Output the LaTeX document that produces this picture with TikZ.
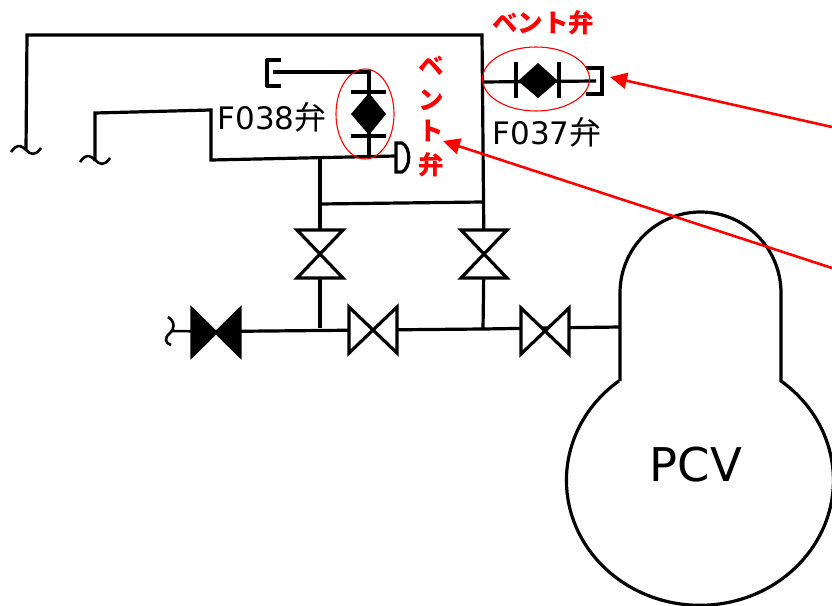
\documentclass[tikz,border=0pt]{standalone}
\usepackage{fontspec}
\setmainfont{DejaVu Sans}
\newfontfamily\jpfont{Noto Sans CJK JP}
\usetikzlibrary{arrows.meta}
\tikzset{
 pipe/.style={line width=3.2pt,line join=miter},
 thin pipe/.style={line width=2.6pt},
 ring/.style={draw=red,line width=1.1pt},
 pointer/.style={draw=red,line width=2.6pt,-{Triangle[length=17pt,width=16pt]}},
 tag/.style={inner sep=0pt,black},
 redtag/.style={font=\jpfont\bfseries\fontsize{25.5}{25.5}\selectfont,inner sep=0pt,red},
}
\newcommand{\valveH}[2]{%
 \draw[pipe,fill=white] (#1-24,#2-23) -- (#1+24,#2+23) -- (#1+24,#2-23) -- (#1-24,#2+23) -- cycle;}
\newcommand{\valveV}[2]{%
 \draw[pipe,fill=white] (#1-23,#2-24) -- (#1+23,#2-24) -- (#1-23,#2+24) -- (#1+23,#2+24) -- cycle;}
\newcommand{\tildeH}[2]{%
 \draw[thin pipe] (#1-15,#2+2) .. controls (#1-8,#2-8) and (#1-3,#2-3) .. (#1,#2) .. controls (#1+4,#2+4) and (#1+9,#2+7) .. (#1+15,#2-2);}
\begin{document}
\begin{tikzpicture}[x=1pt,y=-1pt]
\useasboundingbox (0,0) rectangle (832,605);
\clip (0,0) rectangle (832,605);
% PCV
\coordinate (pcvL) at (620,327);
\draw[pipe] (620,381) -- (620,293) arc[start angle=180,end angle=0,x radius=80.5,y radius=-81] -- (781,381)
  arc[start angle=-52.6,end angle=232.6,x radius=133.5,y radius=125];
\node[font=\fontsize{46.5}{46.5}\selectfont,inner sep=0pt] (pcv) at (696,465) {PCV};
% main line
\coordinate (wavc) at (171,331);
\coordinate (v3) at (216,331.5);
\coordinate (v4) at (373,330);
\coordinate (v5) at (545,328);
\coordinate (v1) at (320,254);
\coordinate (v2) at (484,254);
\coordinate (t1) at (320,328);
\coordinate (t2) at (483,330);
\draw[pipe] (v3) -- (v4);
\draw[pipe] (v4) -- (483,329) -- (v5) -- (pcvL);
\draw[thin pipe] (wavc) -- (v3);
\draw[pipe] (t1) -- (v1);
\draw[pipe] (t2) -- (v2);
% upper lines
\coordinate (tl) at (27,35);
\coordinate (tr) at (482,35);
\coordinate (wav1) at (26,150);
\coordinate (wav2) at (95,161);
\draw[pipe] (wav1) -- (tl) -- (tr) -- (v2);
\draw[pipe] (v1) -- (320,158);
\draw[pipe] (320,204) -- (482,202);
\draw[pipe] (wav2) -- (95,113) -- (211,110) -- (211,160) -- (396,156);
\tildeH{26}{150}
\tildeH{95}{160}
% valves
\valveV{320}{254}
\valveV{484}{254}
\valveH{373}{330}
\valveH{545}{331}
\draw[pipe,fill=black] (192,309) -- (240,356) -- (240,309) -- (192,356) -- cycle;
\draw[thin pipe] (168,317) .. controls (176,322) and (174,330) .. (170,333) .. controls (164,338) and (165,343) .. (171,345);
% F038 valve
\draw[pipe] (273,72) -- (369,72) -- (369,155);
\draw[pipe,line join=round] (281,60) -- (267,60) -- (267,86) -- (281,86);
\draw[pipe] (351,92) -- (386,92);
\draw[pipe] (351,136) -- (386,136);
\fill (369,93) -- (386,114) -- (369,135) -- (351,114) -- cycle;
\draw[pipe] (396,143) -- (402,143) .. controls (411,147) and (411,168) .. (402,172) -- (396,172) -- cycle;
\draw[ring] (365,114) ellipse[x radius=29,y radius=45];
% F037 valve
\draw[pipe] (482,82) -- (596,81);
\draw[pipe] (516,62) -- (516,98);
\draw[pipe] (559,62) -- (559,98);
\fill (538,63) -- (558,81) -- (538,98) -- (518,81) -- cycle;
\draw[pipe] (586,68) -- (602,68) -- (602,94) -- (586,94);
\draw[ring] (536,79) ellipse[x radius=53.5,y radius=32];
% labels
\node[tag,font=\fontsize{31}{31}\selectfont] (f038) at (272,117) {F038{\jpfont\fontsize{32}{32}\selectfont 弁}};
\node[tag,font=\fontsize{31}{31}\selectfont] (f037) at (547,132) {F037{\jpfont\fontsize{32}{32}\selectfont 弁}};
\node[redtag] (r1) at (543,23) {ベント弁};
\node[redtag] (r2a) at (431,66) {ベ};
\node[redtag] (r2b) at (431,100) {ン};
\node[redtag] (r2c) at (431,131) {ト};
\node[redtag] (r2d) at (431,165) {弁};
% pointers
\coordinate (p1) at (832,127);
\coordinate (p2) at (832,268);
\coordinate (h1) at (610,77);
\coordinate (h2) at (443,141);
\draw[pointer] (p1) -- (h1);
\draw[pointer] (p2) -- (h2);
\end{tikzpicture}
\end{document}
